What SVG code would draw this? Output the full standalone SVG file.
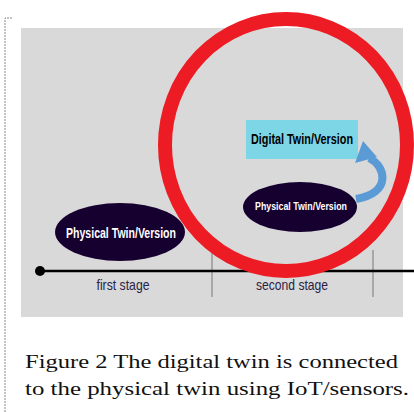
<svg xmlns="http://www.w3.org/2000/svg" width="414" height="412" viewBox="0 0 414 412">
<style>
.nav{fill:#150030}
.cond{font-family:"Liberation Sans Narrow","Liberation Sans",Arial,sans-serif;font-weight:bold}
.stage{font-family:"Liberation Sans Narrow","Liberation Sans",sans-serif;font-size:14.5px;fill:#2a2346;text-anchor:middle}
.cap{font-family:"Liberation Serif","Times New Roman",serif;font-size:19px;fill:#111}
</style>
<rect width="414" height="412" fill="#fff"/>
<path d="M5,412 V18 H12" fill="none" stroke="#888" stroke-width="1" stroke-dasharray="2,1"/>
<rect x="21" y="28" width="382" height="289" fill="#d9d9d9"/>
<g id="ticks">
<line x1="212" y1="252" x2="212" y2="297" stroke="#777" stroke-width="1"/>
<line x1="373" y1="250" x2="373" y2="297" stroke="#777" stroke-width="1"/>
</g>
<g id="physical1">
<ellipse class="nav" cx="120" cy="232" rx="65" ry="29"/>
<text class="cond" x="121" y="238" font-size="15" fill="#fff" text-anchor="middle" textLength="110" lengthAdjust="spacingAndGlyphs">Physical Twin/Version</text>
</g>
<g id="timeline">
<line x1="40" y1="271" x2="414" y2="271" stroke="#000" stroke-width="2.5"/>
<circle cx="40" cy="271" r="5" fill="#000"/>
</g>
<text class="stage" x="123" y="290" textLength="53" lengthAdjust="spacingAndGlyphs">first stage</text>
<text class="stage" x="292" y="290" textLength="72" lengthAdjust="spacingAndGlyphs">second stage</text>
<g id="digital">
<rect x="246" y="120" width="112" height="39" fill="#7dd6e6"/>
<text class="cond" x="302" y="144" font-size="14" fill="#000" text-anchor="middle" textLength="102" lengthAdjust="spacingAndGlyphs">Digital Twin/Version</text>
</g>
<g id="physical2">
<ellipse class="nav" cx="300" cy="207" rx="57" ry="25"/>
<text class="cond" x="301" y="210" font-size="11.5" fill="#fff" text-anchor="middle" textLength="92" lengthAdjust="spacingAndGlyphs">Physical Twin/Version</text>
</g>
<g id="connectors">
<path d="M369,158 C386,166 392,193 356,199" fill="none" stroke="#5b9bd5" stroke-width="8"/>
<polygon points="363,141 355,163 377,157" fill="#5b9bd5"/>
</g>
<ellipse id="ring" cx="286" cy="145" rx="121" ry="126" fill="none" stroke="#ed1c24" stroke-width="14"/>
<text class="cap" x="25" y="368" textLength="373" lengthAdjust="spacingAndGlyphs">Figure 2 The digital twin is connected</text>
<text class="cap" x="25" y="395" textLength="384" lengthAdjust="spacingAndGlyphs">to the physical twin using IoT/sensors.</text>
</svg>
